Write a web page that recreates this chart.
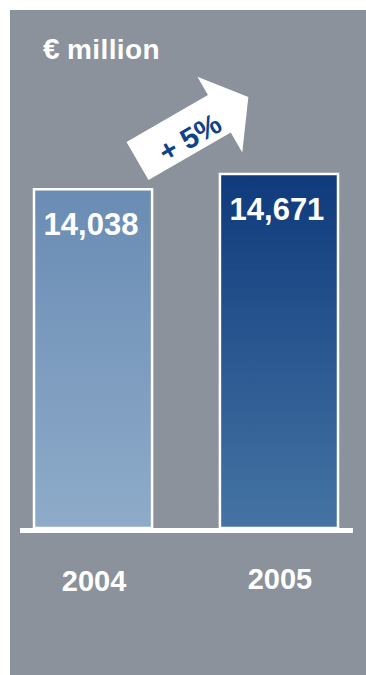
<!DOCTYPE html>
<html>
<head>
<meta charset="utf-8">
<script src="https://cdn.jsdelivr.net/npm/d3@7"></script>
<style>
  body { margin: 0; background: #fff; }
  svg text { font-family: "Liberation Sans", Arial, sans-serif; font-weight: bold; }
</style>
</head>
<body>
<div id="chart"></div>
<script>
const years = ['2004', '2005']
const values = [14038, 14671]
const valueLabels = ['14,038', '14,671']
const unitLabel = ['€', 'million']
const changeLabel = '+ 5%'

const width = 366
const height = 675

const svg = d3
  .select('#chart')
  .append('svg')
  .attr('width', width)
  .attr('height', height)

const defs = svg.append('defs')

const gradients = [
  { id: 'g2004', top: '#6a8cb4', bottom: '#8eabc9' },
  { id: 'g2005', top: '#0f3a7c', bottom: '#4574a4' }
]
gradients.forEach(g => {
  const lg = defs
    .append('linearGradient')
    .attr('id', g.id)
    .attr('x1', 0).attr('y1', 0)
    .attr('x2', 0).attr('y2', 1)
  lg.append('stop').attr('offset', '0%').attr('stop-color', g.top)
  lg.append('stop').attr('offset', '100%').attr('stop-color', g.bottom)
})

// grey panel
svg
  .append('rect')
  .attr('x', 10)
  .attr('y', 10)
  .attr('width', width - 10)
  .attr('height', height - 10)
  .attr('fill', '#8b929b')

const baseline = 528

const x = d3
  .scaleBand()
  .domain(years)
  .range([34, 338])
  .paddingInner(0.365)
  .paddingOuter(0)

const y = d3
  .scaleLinear()
  .domain([0, 14671])
  .range([baseline, 174])

svg
  .selectAll('.bar')
  .data(values)
  .enter()
  .append('rect')
  .attr('class', 'bar')
  .attr('x', (d, i) => x(years[i]))
  .attr('y', d => y(d))
  .attr('width', x.bandwidth())
  .attr('height', d => baseline - y(d))
  .attr('fill', (d, i) => `url(#${gradients[i].id})`)
  .attr('stroke', 'white')
  .attr('stroke-width', 2.5)

// axis line
svg
  .append('rect')
  .attr('x', 20)
  .attr('y', baseline)
  .attr('width', 333)
  .attr('height', 5)
  .attr('fill', 'white')

// value labels
svg
  .selectAll('.value')
  .data(values)
  .enter()
  .append('text')
  .attr('class', 'value')
  .attr('x', (d, i) => x(years[i]) + x.bandwidth() / 2 - 2)
  .attr('y', d => y(d) + 46)
  .attr('text-anchor', 'middle')
  .attr('fill', 'white')
  .style('font-size', '31px')
  .text((d, i) => valueLabels[i])

// year labels
svg
  .selectAll('.year')
  .data(years)
  .enter()
  .append('text')
  .attr('class', 'year')
  .attr('x', d => x(d) + x.bandwidth() / 2 + 1)
  .attr('y', (d, i) => (i === 0 ? 591 : 589))
  .attr('text-anchor', 'middle')
  .attr('fill', 'white')
  .style('font-size', '29px')
  .text(d => d)

// unit
const unit = svg
  .append('text')
  .attr('y', 59)
  .attr('fill', 'white')
  .style('font-size', '28px')
unit.append('tspan').attr('x', 43).style('font-size', '30px').text(unitLabel[0])
unit.append('tspan').attr('x', 67).style('letter-spacing', '0.4px').text(unitLabel[1])

// growth arrow
const arrow = svg
  .append('g')
  .attr('transform', 'translate(137.5,161) rotate(-30)')

const p = d3.path()
p.moveTo(0, -22)
p.lineTo(94, -22)
p.lineTo(94, -43)
p.lineTo(128, 0)
p.lineTo(95, 45)
p.lineTo(95, 22)
p.lineTo(0, 22)
p.closePath()

arrow
  .append('path')
  .attr('d', p.toString())
  .attr('fill', 'white')

arrow
  .append('text')
  .attr('x', 57)
  .attr('y', 16)
  .attr('text-anchor', 'middle')
  .attr('fill', '#0d4388')
  .style('font-size', '29px')
  .text(changeLabel)
</script>
</body>
</html>
